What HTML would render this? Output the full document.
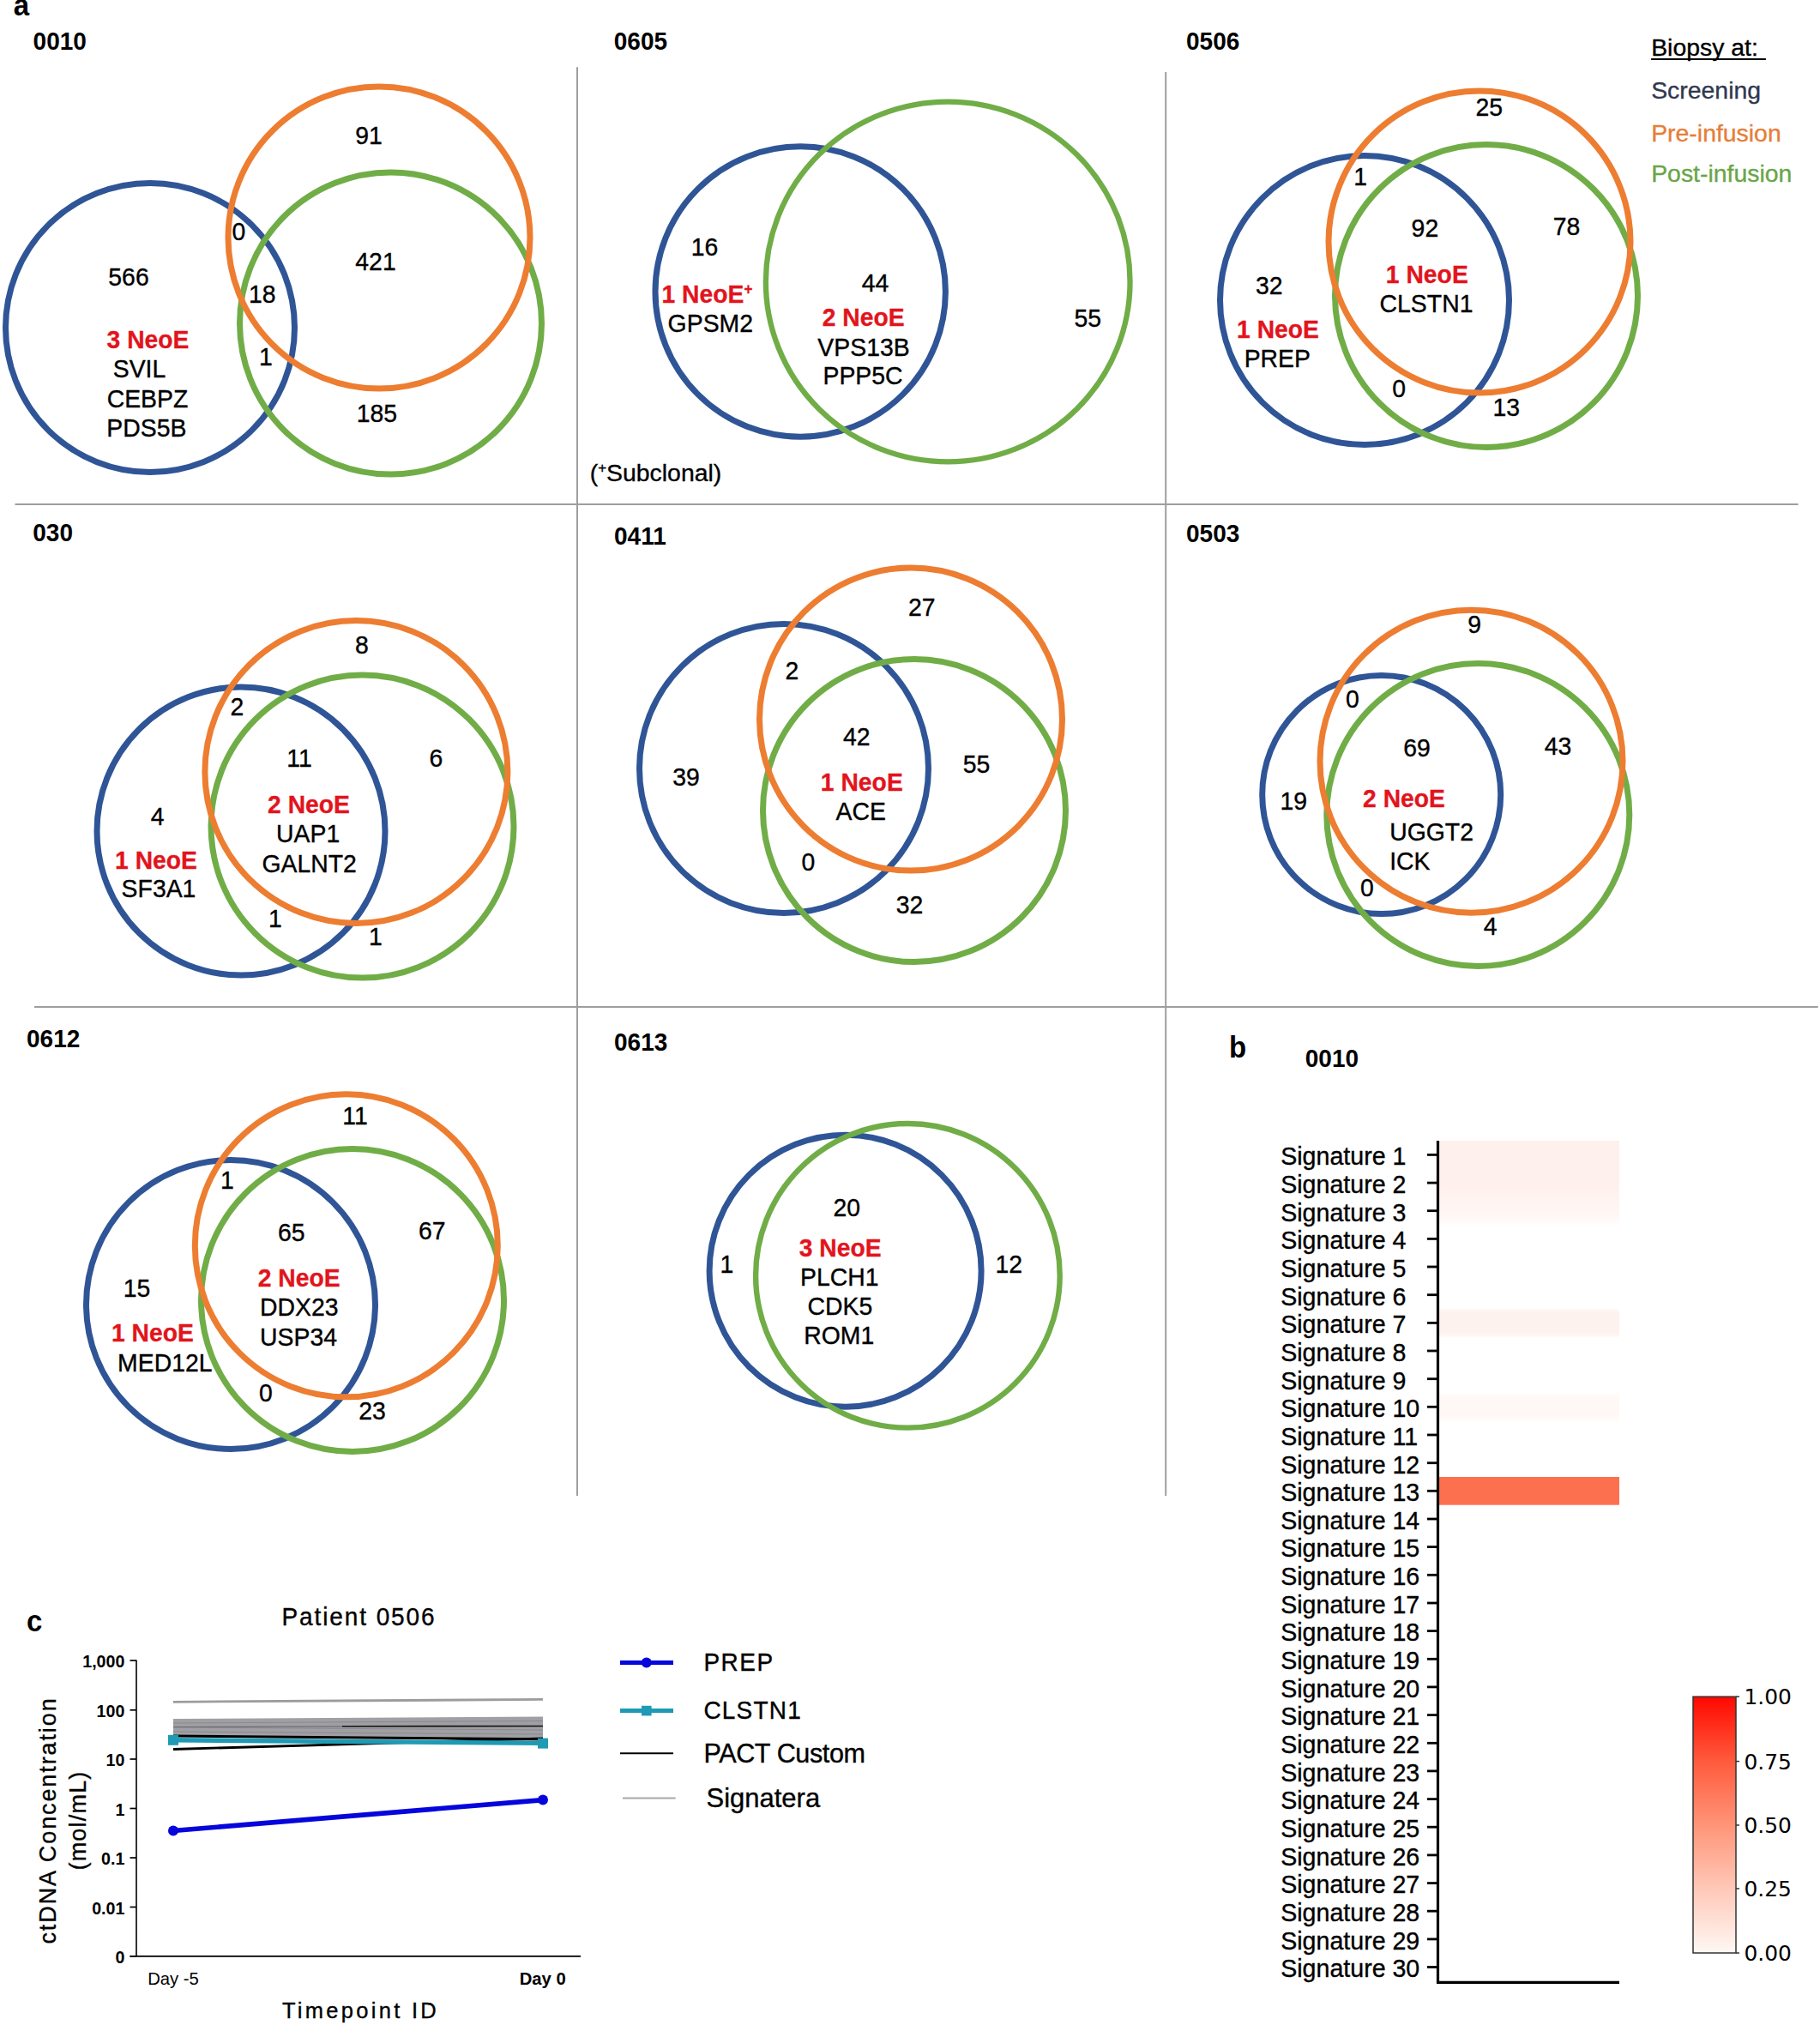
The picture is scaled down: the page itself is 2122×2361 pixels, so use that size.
<!DOCTYPE html>
<html lang="en"><head><meta charset="utf-8"><title>Figure</title>
<style>
html,body{margin:0;padding:0;background:#fff;}
body{width:2122px;height:2361px;overflow:hidden;}
svg{display:block;font-family:"Liberation Sans",Arial,Helvetica,sans-serif;}
.n{font-size:28.4px;fill:#000;stroke:#000;stroke-width:.35px;}
.r{font-size:28.3px;font-weight:bold;fill:#e2141c;stroke:#e2141c;stroke-width:.3px;}
.ti{font-size:28px;font-weight:bold;fill:#000;}
.pl{font-size:33px;font-weight:bold;fill:#000;}
.sg{font-size:28.6px;fill:#000;stroke:#000;stroke-width:.35px;}
.cbt{font-size:24.9px;fill:#000;font-family:"DejaVu Sans",sans-serif;}
.yt{font-size:19.6px;font-weight:bold;fill:#000;}
.xt{font-size:20.3px;fill:#000;}
</style></head>
<body>
<svg width="2122" height="2361" viewBox="0 0 2122 2361">
<rect width="2122" height="2361" fill="#fff"/>
<g stroke="#9e9e9e" stroke-width="2">
<line x1="17.5" y1="588" x2="2096.6" y2="588"/>
<line x1="40" y1="1173.9" x2="2119.7" y2="1173.9"/>
<line x1="673" y1="78.3" x2="673" y2="1744"/>
<line x1="1359.2" y1="84" x2="1359.2" y2="1744"/>
</g>
<text transform="translate(15.8 17.9) scale(1 1.04)" text-anchor="start" class="pl">a</text>
<text transform="translate(1433.0 1233.3) scale(1 1.04)" text-anchor="start" class="pl">b</text>
<text transform="translate(31.0 1902.2) scale(1 1.04)" text-anchor="start" class="pl">c</text>
<text transform="translate(38.6 57.7) scale(1 1.045)" text-anchor="start" class="ti">0010</text>
<circle cx="175.0" cy="382.0" r="168.5" stroke="#2f5597" stroke-width="7.0" fill="none"/>
<circle cx="455.5" cy="377.0" r="176.0" stroke="#70ad47" stroke-width="7.0" fill="none"/>
<circle cx="442.0" cy="277.0" r="176.0" stroke="#ed7d31" stroke-width="7.0" fill="none"/>
<text transform="translate(430.0 168.0) scale(1 1.045)" text-anchor="middle" class="n">91</text>
<text transform="translate(278.5 280.0) scale(1 1.045)" text-anchor="middle" class="n">0</text>
<text transform="translate(438.0 314.6) scale(1 1.045)" text-anchor="middle" class="n">421</text>
<text transform="translate(150.0 333.0) scale(1 1.045)" text-anchor="middle" class="n">566</text>
<text transform="translate(305.8 353.0) scale(1 1.045)" text-anchor="middle" class="n">18</text>
<text transform="translate(310.0 426.0) scale(1 1.045)" text-anchor="middle" class="n">1</text>
<text transform="translate(439.4 492.3) scale(1 1.045)" text-anchor="middle" class="n">185</text>
<text transform="translate(162.5 439.6) scale(1 1.045)" text-anchor="middle" class="n">SVIL</text>
<text transform="translate(172.0 475.0) scale(1 1.045)" text-anchor="middle" class="n">CEBPZ</text>
<text transform="translate(170.8 508.5) scale(1 1.045)" text-anchor="middle" class="n">PDS5B</text>
<text transform="translate(172.5 405.8) scale(1 1.045)" text-anchor="middle" class="r">3 NeoE</text>
<text transform="translate(715.8 57.7) scale(1 1.045)" text-anchor="start" class="ti">0605</text>
<circle cx="933.2" cy="340.0" r="169.2" stroke="#2f5597" stroke-width="7.0" fill="none"/>
<ellipse cx="1105.2" cy="328.5" rx="212.35" ry="209.85" stroke="#70ad47" stroke-width="6.3" fill="none"/>
<text transform="translate(821.5 298.0) scale(1 1.045)" text-anchor="middle" class="n">16</text>
<text transform="translate(828.3 387.3) scale(1 1.045)" text-anchor="middle" class="n">GPSM2</text>
<text transform="translate(1020.6 340.4) scale(1 1.045)" text-anchor="middle" class="n">44</text>
<text transform="translate(1007.0 414.6) scale(1 1.045)" text-anchor="middle" class="n">VPS13B</text>
<text transform="translate(1006.0 448.0) scale(1 1.045)" text-anchor="middle" class="n">PPP5C</text>
<text transform="translate(1268.3 380.8) scale(1 1.045)" text-anchor="middle" class="n">55</text>
<text transform="translate(771.5 353.0) scale(1 1.045)" text-anchor="start" class="r">1 NeoE<tspan dy="-10" style="font-size:17px">+</tspan></text>
<text transform="translate(1006.7 380.0) scale(1 1.045)" text-anchor="middle" class="r">2 NeoE</text>
<text x="687.7" y="561.3" text-anchor="start" class="n">(<tspan dy="-10" style="font-size:17px">+</tspan><tspan dy="10">Subclonal)</tspan></text>
<text transform="translate(1383.0 57.7) scale(1 1.045)" text-anchor="start" class="ti">0506</text>
<circle cx="1591.0" cy="350.0" r="168.5" stroke="#2f5597" stroke-width="7.0" fill="none"/>
<circle cx="1733.0" cy="345.0" r="176.5" stroke="#70ad47" stroke-width="7.0" fill="none"/>
<circle cx="1725.0" cy="282.0" r="176.0" stroke="#ed7d31" stroke-width="7.0" fill="none"/>
<text transform="translate(1736.2 134.5) scale(1 1.045)" text-anchor="middle" class="n">25</text>
<text transform="translate(1586.2 216.2) scale(1 1.045)" text-anchor="middle" class="n">1</text>
<text transform="translate(1661.4 276.3) scale(1 1.045)" text-anchor="middle" class="n">92</text>
<text transform="translate(1826.5 274.2) scale(1 1.045)" text-anchor="middle" class="n">78</text>
<text transform="translate(1479.7 342.5) scale(1 1.045)" text-anchor="middle" class="n">32</text>
<text transform="translate(1663.0 364.4) scale(1 1.045)" text-anchor="middle" class="n">CLSTN1</text>
<text transform="translate(1489.3 428.4) scale(1 1.045)" text-anchor="middle" class="n">PREP</text>
<text transform="translate(1631.2 463.3) scale(1 1.045)" text-anchor="middle" class="n">0</text>
<text transform="translate(1756.2 484.7) scale(1 1.045)" text-anchor="middle" class="n">13</text>
<text transform="translate(1663.8 330.0) scale(1 1.045)" text-anchor="middle" class="r">1 NeoE</text>
<text transform="translate(1490.0 394.0) scale(1 1.045)" text-anchor="middle" class="r">1 NeoE</text>
<text x="1925.2" y="65.0" text-anchor="start" class="n">Biopsy at:</text>
<line x1="1925.1" y1="69" x2="2058.9" y2="69" stroke="#000" stroke-width="2.1"/>
<text x="1925.2" y="115.4" text-anchor="start" class="n" style="fill:#30384f;stroke:#30384f">Screening</text>
<text x="1925.2" y="165.1" text-anchor="start" class="n" style="fill:#e67e38;stroke:#e67e38">Pre-infusion</text>
<text x="1925.2" y="212.0" text-anchor="start" class="n" style="fill:#6aa548;stroke:#6aa548">Post-infusion</text>
<text transform="translate(38.3 631.2) scale(1 1.045)" text-anchor="start" class="ti">030</text>
<circle cx="281.0" cy="969.0" r="168.0" stroke="#2f5597" stroke-width="7.0" fill="none"/>
<circle cx="422.5" cy="963.6" r="176.5" stroke="#70ad47" stroke-width="7.0" fill="none"/>
<circle cx="415.4" cy="900.0" r="176.5" stroke="#ed7d31" stroke-width="7.0" fill="none"/>
<text transform="translate(422.0 761.5) scale(1 1.045)" text-anchor="middle" class="n">8</text>
<text transform="translate(276.5 833.8) scale(1 1.045)" text-anchor="middle" class="n">2</text>
<text transform="translate(349.0 894.2) scale(1 1.045)" text-anchor="middle" class="n">11</text>
<text transform="translate(508.3 893.5) scale(1 1.045)" text-anchor="middle" class="n">6</text>
<text transform="translate(183.6 962.0) scale(1 1.045)" text-anchor="middle" class="n">4</text>
<text transform="translate(359.2 982.0) scale(1 1.045)" text-anchor="middle" class="n">UAP1</text>
<text transform="translate(360.6 1016.5) scale(1 1.045)" text-anchor="middle" class="n">GALNT2</text>
<text transform="translate(185.0 1046.0) scale(1 1.045)" text-anchor="middle" class="n">SF3A1</text>
<text transform="translate(321.0 1080.8) scale(1 1.045)" text-anchor="middle" class="n">1</text>
<text transform="translate(438.0 1102.3) scale(1 1.045)" text-anchor="middle" class="n">1</text>
<text transform="translate(360.0 948.0) scale(1 1.045)" text-anchor="middle" class="r">2 NeoE</text>
<text transform="translate(182.0 1012.7) scale(1 1.045)" text-anchor="middle" class="r">1 NeoE</text>
<text transform="translate(716.0 635.0) scale(1 1.045)" text-anchor="start" class="ti">0411</text>
<circle cx="914.0" cy="896.0" r="168.5" stroke="#2f5597" stroke-width="7.0" fill="none"/>
<circle cx="1066.0" cy="945.0" r="176.5" stroke="#70ad47" stroke-width="7.0" fill="none"/>
<circle cx="1062.0" cy="838.6" r="176.5" stroke="#ed7d31" stroke-width="7.0" fill="none"/>
<text transform="translate(1074.8 717.7) scale(1 1.045)" text-anchor="middle" class="n">27</text>
<text transform="translate(923.5 791.5) scale(1 1.045)" text-anchor="middle" class="n">2</text>
<text transform="translate(998.8 868.5) scale(1 1.045)" text-anchor="middle" class="n">42</text>
<text transform="translate(1138.5 901.0) scale(1 1.045)" text-anchor="middle" class="n">55</text>
<text transform="translate(800.0 915.8) scale(1 1.045)" text-anchor="middle" class="n">39</text>
<text transform="translate(1003.8 956.0) scale(1 1.045)" text-anchor="middle" class="n">ACE</text>
<text transform="translate(942.3 1014.6) scale(1 1.045)" text-anchor="middle" class="n">0</text>
<text transform="translate(1060.6 1064.6) scale(1 1.045)" text-anchor="middle" class="n">32</text>
<text transform="translate(1004.8 922.3) scale(1 1.045)" text-anchor="middle" class="r">1 NeoE</text>
<text transform="translate(1383.0 631.6) scale(1 1.045)" text-anchor="start" class="ti">0503</text>
<circle cx="1610.7" cy="926.5" r="139.0" stroke="#2f5597" stroke-width="7.0" fill="none"/>
<circle cx="1723.3" cy="950.0" r="176.5" stroke="#70ad47" stroke-width="7.0" fill="none"/>
<circle cx="1715.5" cy="887.7" r="176.5" stroke="#ed7d31" stroke-width="7.0" fill="none"/>
<text transform="translate(1719.2 738.0) scale(1 1.045)" text-anchor="middle" class="n">9</text>
<text transform="translate(1577.0 825.0) scale(1 1.045)" text-anchor="middle" class="n">0</text>
<text transform="translate(1652.0 881.7) scale(1 1.045)" text-anchor="middle" class="n">69</text>
<text transform="translate(1816.6 880.0) scale(1 1.045)" text-anchor="middle" class="n">43</text>
<text transform="translate(1508.2 944.4) scale(1 1.045)" text-anchor="middle" class="n">19</text>
<text transform="translate(1594.0 1045.4) scale(1 1.045)" text-anchor="middle" class="n">0</text>
<text transform="translate(1737.7 1090.0) scale(1 1.045)" text-anchor="middle" class="n">4</text>
<text transform="translate(1620.2 979.7) scale(1 1.045)" text-anchor="start" class="n">UGGT2</text>
<text transform="translate(1620.2 1014.0) scale(1 1.045)" text-anchor="start" class="n">ICK</text>
<text transform="translate(1637.0 941.0) scale(1 1.045)" text-anchor="middle" class="r">2 NeoE</text>
<text transform="translate(31.0 1220.8) scale(1 1.045)" text-anchor="start" class="ti">0612</text>
<circle cx="269.0" cy="1521.0" r="168.5" stroke="#2f5597" stroke-width="7.0" fill="none"/>
<circle cx="411.0" cy="1516.0" r="176.5" stroke="#70ad47" stroke-width="7.0" fill="none"/>
<circle cx="403.8" cy="1452.3" r="176.5" stroke="#ed7d31" stroke-width="7.0" fill="none"/>
<text transform="translate(414.0 1310.8) scale(1 1.045)" text-anchor="middle" class="n">11</text>
<text transform="translate(265.0 1385.8) scale(1 1.045)" text-anchor="middle" class="n">1</text>
<text transform="translate(339.8 1446.5) scale(1 1.045)" text-anchor="middle" class="n">65</text>
<text transform="translate(503.8 1445.4) scale(1 1.045)" text-anchor="middle" class="n">67</text>
<text transform="translate(159.6 1512.0) scale(1 1.045)" text-anchor="middle" class="n">15</text>
<text transform="translate(348.7 1534.2) scale(1 1.045)" text-anchor="middle" class="n">DDX23</text>
<text transform="translate(348.0 1568.5) scale(1 1.045)" text-anchor="middle" class="n">USP34</text>
<text transform="translate(192.3 1598.5) scale(1 1.045)" text-anchor="middle" class="n">MED12L</text>
<text transform="translate(309.8 1633.8) scale(1 1.045)" text-anchor="middle" class="n">0</text>
<text transform="translate(434.0 1655.0) scale(1 1.045)" text-anchor="middle" class="n">23</text>
<text transform="translate(348.7 1500.4) scale(1 1.045)" text-anchor="middle" class="r">2 NeoE</text>
<text transform="translate(177.9 1563.8) scale(1 1.045)" text-anchor="middle" class="r">1 NeoE</text>
<text transform="translate(716.0 1225.4) scale(1 1.045)" text-anchor="start" class="ti">0613</text>
<circle cx="985.6" cy="1481.7" r="158.5" stroke="#2f5597" stroke-width="7.0" fill="none"/>
<circle cx="1058.4" cy="1487.3" r="177.3" stroke="#70ad47" stroke-width="6.4" fill="none"/>
<text transform="translate(987.3 1417.7) scale(1 1.045)" text-anchor="middle" class="n">20</text>
<text transform="translate(847.5 1483.8) scale(1 1.045)" text-anchor="middle" class="n">1</text>
<text transform="translate(1176.3 1483.8) scale(1 1.045)" text-anchor="middle" class="n">12</text>
<text transform="translate(978.8 1498.5) scale(1 1.045)" text-anchor="middle" class="n">PLCH1</text>
<text transform="translate(979.4 1533.0) scale(1 1.045)" text-anchor="middle" class="n">CDK5</text>
<text transform="translate(978.3 1567.0) scale(1 1.045)" text-anchor="middle" class="n">ROM1</text>
<text transform="translate(979.6 1464.6) scale(1 1.045)" text-anchor="middle" class="r">3 NeoE</text>
<text transform="translate(1521.8 1244.3) scale(1 1.045)" text-anchor="start" class="ti">0010</text>
<defs><linearGradient id="h1" x1="0" y1="0" x2="0" y2="1"><stop offset="0" stop-color="#fef0ec"/><stop offset="0.5" stop-color="#fef0ec"/><stop offset="0.72" stop-color="#fff4f1"/><stop offset="0.92" stop-color="#fff8f6"/><stop offset="1" stop-color="#fffdfc"/></linearGradient><linearGradient id="h7" x1="0" y1="0" x2="0" y2="1"><stop offset="0" stop-color="#fffaf8"/><stop offset="0.15" stop-color="#fef2ee"/><stop offset="0.85" stop-color="#fef2ee"/><stop offset="1" stop-color="#fffaf8"/></linearGradient><linearGradient id="h10" x1="0" y1="0" x2="0" y2="1"><stop offset="0" stop-color="#fffdfc"/><stop offset="0.2" stop-color="#fff8f5"/><stop offset="0.8" stop-color="#fff8f5"/><stop offset="1" stop-color="#fffdfc"/></linearGradient></defs>
<rect x="1677" y="1330.1" width="211" height="98.0" fill="url(#h1)"/>
<rect x="1677" y="1526.0" width="211" height="32.7" fill="url(#h7)"/>
<rect x="1677" y="1624.0" width="211" height="32.7" fill="url(#h10)"/>
<rect x="1677" y="1722.0" width="211" height="32.7" fill="#fc7050"/>
<line x1="1664" y1="1346.4" x2="1676" y2="1346.4" stroke="#000" stroke-width="2.8"/>
<text transform="translate(1493.2 1358.2) scale(1 1.04)" text-anchor="start" class="sg">Signature 1</text>
<line x1="1664" y1="1379.1" x2="1676" y2="1379.1" stroke="#000" stroke-width="2.8"/>
<text transform="translate(1493.2 1390.9) scale(1 1.04)" text-anchor="start" class="sg">Signature 2</text>
<line x1="1664" y1="1411.7" x2="1676" y2="1411.7" stroke="#000" stroke-width="2.8"/>
<text transform="translate(1493.2 1423.5) scale(1 1.04)" text-anchor="start" class="sg">Signature 3</text>
<line x1="1664" y1="1444.4" x2="1676" y2="1444.4" stroke="#000" stroke-width="2.8"/>
<text transform="translate(1493.2 1456.2) scale(1 1.04)" text-anchor="start" class="sg">Signature 4</text>
<line x1="1664" y1="1477.0" x2="1676" y2="1477.0" stroke="#000" stroke-width="2.8"/>
<text transform="translate(1493.2 1488.8) scale(1 1.04)" text-anchor="start" class="sg">Signature 5</text>
<line x1="1664" y1="1509.7" x2="1676" y2="1509.7" stroke="#000" stroke-width="2.8"/>
<text transform="translate(1493.2 1521.5) scale(1 1.04)" text-anchor="start" class="sg">Signature 6</text>
<line x1="1664" y1="1542.4" x2="1676" y2="1542.4" stroke="#000" stroke-width="2.8"/>
<text transform="translate(1493.2 1554.2) scale(1 1.04)" text-anchor="start" class="sg">Signature 7</text>
<line x1="1664" y1="1575.0" x2="1676" y2="1575.0" stroke="#000" stroke-width="2.8"/>
<text transform="translate(1493.2 1586.8) scale(1 1.04)" text-anchor="start" class="sg">Signature 8</text>
<line x1="1664" y1="1607.7" x2="1676" y2="1607.7" stroke="#000" stroke-width="2.8"/>
<text transform="translate(1493.2 1619.5) scale(1 1.04)" text-anchor="start" class="sg">Signature 9</text>
<line x1="1664" y1="1640.3" x2="1676" y2="1640.3" stroke="#000" stroke-width="2.8"/>
<text transform="translate(1493.2 1652.1) scale(1 1.04)" text-anchor="start" class="sg">Signature 10</text>
<line x1="1664" y1="1673.0" x2="1676" y2="1673.0" stroke="#000" stroke-width="2.8"/>
<text transform="translate(1493.2 1684.8) scale(1 1.04)" text-anchor="start" class="sg">Signature 11</text>
<line x1="1664" y1="1705.7" x2="1676" y2="1705.7" stroke="#000" stroke-width="2.8"/>
<text transform="translate(1493.2 1717.5) scale(1 1.04)" text-anchor="start" class="sg">Signature 12</text>
<line x1="1664" y1="1738.3" x2="1676" y2="1738.3" stroke="#000" stroke-width="2.8"/>
<text transform="translate(1493.2 1750.1) scale(1 1.04)" text-anchor="start" class="sg">Signature 13</text>
<line x1="1664" y1="1771.0" x2="1676" y2="1771.0" stroke="#000" stroke-width="2.8"/>
<text transform="translate(1493.2 1782.8) scale(1 1.04)" text-anchor="start" class="sg">Signature 14</text>
<line x1="1664" y1="1803.6" x2="1676" y2="1803.6" stroke="#000" stroke-width="2.8"/>
<text transform="translate(1493.2 1815.4) scale(1 1.04)" text-anchor="start" class="sg">Signature 15</text>
<line x1="1664" y1="1836.3" x2="1676" y2="1836.3" stroke="#000" stroke-width="2.8"/>
<text transform="translate(1493.2 1848.1) scale(1 1.04)" text-anchor="start" class="sg">Signature 16</text>
<line x1="1664" y1="1869.0" x2="1676" y2="1869.0" stroke="#000" stroke-width="2.8"/>
<text transform="translate(1493.2 1880.8) scale(1 1.04)" text-anchor="start" class="sg">Signature 17</text>
<line x1="1664" y1="1901.6" x2="1676" y2="1901.6" stroke="#000" stroke-width="2.8"/>
<text transform="translate(1493.2 1913.4) scale(1 1.04)" text-anchor="start" class="sg">Signature 18</text>
<line x1="1664" y1="1934.3" x2="1676" y2="1934.3" stroke="#000" stroke-width="2.8"/>
<text transform="translate(1493.2 1946.1) scale(1 1.04)" text-anchor="start" class="sg">Signature 19</text>
<line x1="1664" y1="1966.9" x2="1676" y2="1966.9" stroke="#000" stroke-width="2.8"/>
<text transform="translate(1493.2 1978.7) scale(1 1.04)" text-anchor="start" class="sg">Signature 20</text>
<line x1="1664" y1="1999.6" x2="1676" y2="1999.6" stroke="#000" stroke-width="2.8"/>
<text transform="translate(1493.2 2011.4) scale(1 1.04)" text-anchor="start" class="sg">Signature 21</text>
<line x1="1664" y1="2032.3" x2="1676" y2="2032.3" stroke="#000" stroke-width="2.8"/>
<text transform="translate(1493.2 2044.1) scale(1 1.04)" text-anchor="start" class="sg">Signature 22</text>
<line x1="1664" y1="2064.9" x2="1676" y2="2064.9" stroke="#000" stroke-width="2.8"/>
<text transform="translate(1493.2 2076.7) scale(1 1.04)" text-anchor="start" class="sg">Signature 23</text>
<line x1="1664" y1="2097.6" x2="1676" y2="2097.6" stroke="#000" stroke-width="2.8"/>
<text transform="translate(1493.2 2109.4) scale(1 1.04)" text-anchor="start" class="sg">Signature 24</text>
<line x1="1664" y1="2130.2" x2="1676" y2="2130.2" stroke="#000" stroke-width="2.8"/>
<text transform="translate(1493.2 2142.0) scale(1 1.04)" text-anchor="start" class="sg">Signature 25</text>
<line x1="1664" y1="2162.9" x2="1676" y2="2162.9" stroke="#000" stroke-width="2.8"/>
<text transform="translate(1493.2 2174.7) scale(1 1.04)" text-anchor="start" class="sg">Signature 26</text>
<line x1="1664" y1="2195.6" x2="1676" y2="2195.6" stroke="#000" stroke-width="2.8"/>
<text transform="translate(1493.2 2207.4) scale(1 1.04)" text-anchor="start" class="sg">Signature 27</text>
<line x1="1664" y1="2228.2" x2="1676" y2="2228.2" stroke="#000" stroke-width="2.8"/>
<text transform="translate(1493.2 2240.0) scale(1 1.04)" text-anchor="start" class="sg">Signature 28</text>
<line x1="1664" y1="2260.9" x2="1676" y2="2260.9" stroke="#000" stroke-width="2.8"/>
<text transform="translate(1493.2 2272.7) scale(1 1.04)" text-anchor="start" class="sg">Signature 29</text>
<line x1="1664" y1="2293.5" x2="1676" y2="2293.5" stroke="#000" stroke-width="2.8"/>
<text transform="translate(1493.2 2305.3) scale(1 1.04)" text-anchor="start" class="sg">Signature 30</text>
<path d="M1676.5 1330.1 V2311.4 H1888" stroke="#000" stroke-width="3.2" fill="none"/>
<defs><linearGradient id="cb" x1="0" y1="0" x2="0" y2="1"><stop offset="0" stop-color="#ff0800"/><stop offset="0.25" stop-color="#ff5a3c"/><stop offset="0.5" stop-color="#ff9478"/><stop offset="0.75" stop-color="#ffc8b8"/><stop offset="1" stop-color="#fff8f4"/></linearGradient></defs>
<rect x="1974" y="1978.2" width="50" height="298.8" fill="url(#cb)" stroke="#333" stroke-width="1.5"/>
<line x1="2024" y1="1978.2" x2="2028" y2="1978.2" stroke="#333" stroke-width="1.5"/>
<text x="2033.4" y="1987.3" text-anchor="start" class="cbt">1.00</text>
<line x1="2024" y1="2053.6" x2="2028" y2="2053.6" stroke="#333" stroke-width="1.5"/>
<text x="2033.4" y="2062.7" text-anchor="start" class="cbt">0.75</text>
<line x1="2024" y1="2128" x2="2028" y2="2128" stroke="#333" stroke-width="1.5"/>
<text x="2033.4" y="2137.1" text-anchor="start" class="cbt">0.50</text>
<line x1="2024" y1="2202" x2="2028" y2="2202" stroke="#333" stroke-width="1.5"/>
<text x="2033.4" y="2211.1" text-anchor="start" class="cbt">0.25</text>
<line x1="2024" y1="2277" x2="2028" y2="2277" stroke="#333" stroke-width="1.5"/>
<text x="2033.4" y="2286.1" text-anchor="start" class="cbt">0.00</text>
<text transform="translate(418.5 1895.4) scale(1 1.04)" text-anchor="middle" class="n" style="font-size:28px" letter-spacing="1.9">Patient 0506</text>
<text transform="translate(420.5 2353.0) scale(1 1.04)" text-anchor="middle" class="n" style="font-size:25.5px" letter-spacing="3.3">Timepoint ID</text>
<path d="M159 1935.4 V2280.9 M151.5 2280.9 H677" stroke="#000" stroke-width="1.6" fill="none"/>
<line x1="151.5" y1="1936" x2="159" y2="1936" stroke="#000" stroke-width="1.7"/>
<text transform="translate(145.3 1944.0) scale(1 1.04)" text-anchor="end" class="yt">1,000</text>
<line x1="151.5" y1="1993.8" x2="159" y2="1993.8" stroke="#000" stroke-width="1.7"/>
<text transform="translate(145.3 2001.8) scale(1 1.04)" text-anchor="end" class="yt">100</text>
<line x1="151.5" y1="2051" x2="159" y2="2051" stroke="#000" stroke-width="1.7"/>
<text transform="translate(145.3 2059.0) scale(1 1.04)" text-anchor="end" class="yt">10</text>
<line x1="151.5" y1="2108.5" x2="159" y2="2108.5" stroke="#000" stroke-width="1.7"/>
<text transform="translate(145.3 2116.5) scale(1 1.04)" text-anchor="end" class="yt">1</text>
<line x1="151.5" y1="2166" x2="159" y2="2166" stroke="#000" stroke-width="1.7"/>
<text transform="translate(145.3 2174.0) scale(1 1.04)" text-anchor="end" class="yt">0.1</text>
<line x1="151.5" y1="2223.5" x2="159" y2="2223.5" stroke="#000" stroke-width="1.7"/>
<text transform="translate(145.3 2231.5) scale(1 1.04)" text-anchor="end" class="yt">0.01</text>
<line x1="151.5" y1="2280.9" x2="159" y2="2280.9" stroke="#000" stroke-width="1.7"/>
<text transform="translate(145.3 2288.9) scale(1 1.04)" text-anchor="end" class="yt">0</text>
<text transform="translate(202.0 2313.8) scale(1 1.04)" text-anchor="middle" class="xt">Day -5</text>
<text transform="translate(632.7 2313.8) scale(1 1.04)" text-anchor="middle" class="xt" font-weight="bold">Day 0</text>
<text transform="translate(64.5,2122.5) rotate(-90) scale(1 1.04)" text-anchor="middle" class="n" style="font-size:27px" letter-spacing="1.9">ctDNA Concentration</text>
<text transform="translate(100,2122.5) rotate(-90) scale(1 1.04)" text-anchor="middle" class="n" style="font-size:27px" letter-spacing="1.2">(mol/mL)</text>
<line x1="202" y1="1984.3" x2="633" y2="1981.4" stroke="#9c9c9c" stroke-width="2.8"/>
<polygon points="202,2004 633,2001.5 633,2029.7 202,2024" fill="#a0a0a4"/>
<line x1="202" y1="2009" x2="633" y2="2006.5" stroke="#8a8a8e" stroke-width="1"/>
<line x1="202" y1="2014" x2="633" y2="2017" stroke="#8a8a8e" stroke-width="1"/>
<line x1="202" y1="2019" x2="633" y2="2022" stroke="#8a8a8e" stroke-width="1"/>
<line x1="202" y1="2013.5" x2="399" y2="2012.8" stroke="#6e6e72" stroke-width="1.2"/>
<line x1="399" y1="2012.8" x2="633" y2="2012.5" stroke="#111" stroke-width="1.6"/>
<line x1="202" y1="2024" x2="633" y2="2027.7" stroke="#000" stroke-width="3"/>
<line x1="202" y1="2039.5" x2="633" y2="2027" stroke="#000" stroke-width="2.8"/>
<line x1="202" y1="2028.8" x2="633" y2="2032.4" stroke="#1e9ab4" stroke-width="5.4"/>
<rect x="196" y="2022.8" width="12" height="12" fill="#1e9ab4"/><rect x="627" y="2026.6" width="12" height="12" fill="#1e9ab4"/>
<line x1="202" y1="2134.5" x2="633" y2="2098.6" stroke="#0505dc" stroke-width="5.6"/>
<circle cx="202" cy="2134.5" r="6" fill="#0505dc"/><circle cx="633" cy="2098.6" r="6" fill="#0505dc"/>
<line x1="723" y1="1938.5" x2="785" y2="1938.5" stroke="#0505dc" stroke-width="5"/><circle cx="753.8" cy="1938.5" r="6" fill="#0505dc"/>
<line x1="723" y1="1994.6" x2="785" y2="1994.6" stroke="#1e9ab4" stroke-width="5"/><rect x="748" y="1988.8" width="11.6" height="11.6" fill="#1e9ab4"/>
<line x1="723" y1="2044.2" x2="785" y2="2044.2" stroke="#000" stroke-width="2"/>
<line x1="726" y1="2096.5" x2="787.7" y2="2096.5" stroke="#a8a8a8" stroke-width="2"/>
<text transform="translate(820.4 1947.7) scale(1 1.04)" text-anchor="start" class="n" style="font-size:28px" letter-spacing="1.5">PREP</text>
<text transform="translate(820.4 2004.2) scale(1 1.04)" text-anchor="start" class="n" style="font-size:28px" letter-spacing="1.2">CLSTN1</text>
<text transform="translate(820.4 2055.4) scale(1 1.04)" text-anchor="start" class="n" style="font-size:30.6px" letter-spacing="-0.4">PACT Custom</text>
<text transform="translate(823.5 2107.3) scale(1 1.04)" text-anchor="start" class="n" style="font-size:31px">Signatera</text>
</svg>
</body></html>
